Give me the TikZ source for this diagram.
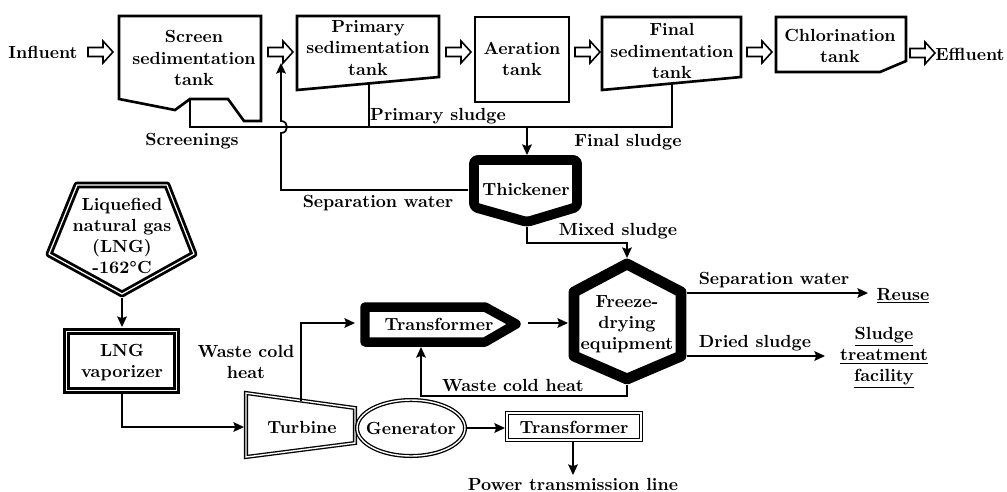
\documentclass[tikz,border=0pt]{standalone}
\usetikzlibrary{arrows.meta}
\begin{document}
\begin{tikzpicture}[x=0.02cm,y=-0.02cm,
  every node/.style={font=\bfseries\fontsize{10}{12}\selectfont, inner sep=0pt, align=center},
  tank/.style={line width=1.5pt, line join=miter},
  flow/.style={line width=1pt},
  arr/.style={flow,-{Stealth[length=6pt,width=5.5pt,inset=1pt]}},
  heavy/.style={line width=5.6pt, line join=round},
  dbl/.style={line width=0.75pt, double=white, double distance=0.8pt},
  dblheavy/.style={line width=1.6pt, double=white, double distance=0.7pt},
  hollow/.style={line width=0.9pt, line join=miter}]
\useasboundingbox (0,0) rectangle (1007,491);

% ---------- top row tanks ----------
\draw[tank] (119,16) -- (261,16) -- (261,121) -- (244,121) -- (228,99) -- (190,99) -- (175,110) -- (119,99) -- cycle;
\coordinate (scrbot) at (190,99);
\node (screen) at (194,58) {Screen\\sedimentation\\tank};

\draw[tank] (297,16) -- (439,16) -- (439,77) -- (297,90) -- cycle;
\coordinate (pribot) at (369,83.5);
\node (primary) at (368,48) {Primary\\sedimentation\\tank};

\draw[tank] (475,17) rectangle (569,102);
\node (aeration) at (522,59) {Aeration\\tank};

\draw[tank] (602,17) -- (741,17) -- (741,77) -- (602,90) -- cycle;
\coordinate (finbot) at (672,83.5);
\node (final) at (672,51) {Final\\sedimentation\\tank};

\draw[tank] (776,17) -- (906,17) -- (906,61) -- (880,72) -- (776,72) -- cycle;
\node (chlor) at (840,46) {Chlorination\\tank};

\node (influent) at (43,52) {Influent};
\node (effluent) at (970,54) {Effluent};

% open (hollow) block arrows between the stages
\foreach \name/\xa/\ya in {oa1/88/52, oa2/268/52, oa3/446/52, oa4/575/52, oa5/747/52, oa6/910/53} {
  \coordinate (\name) at (\xa,\ya);
  \draw[hollow] (\name) ++(0,-4.5) -- ++(15,0) -- ++(0,-6.5) -- ++(10,11) -- ++(-10,11) -- ++(0,-6.5) -- ++(-15,0) -- cycle;
}

% ---------- sludge collection ----------
\coordinate (junc) at (527,127);
\draw[flow] (scrbot) -- (190,127) -- (672,127) -- (finbot);
\draw[flow] (pribot) -- (369,127);
\node (screenings) at (192,141) {Screenings};
\node (primsl) at (438,116) {Primary sludge};
\node (finsl) at (628,142) {Final sludge};

% ---------- thickener ----------
\draw[heavy, rounded corners=2pt] (474,160) -- (577,160) -- (577,207) -- (527,222) -- (474,207) -- cycle;
\node (thick) at (526,189) {Thickener};
\coordinate (thtop) at (527,155);
\coordinate (thleft) at (468,190);
\coordinate (thbot) at (527,227);
\draw[arr] (junc) -- (thtop);

% separation water back to primary inlet, hopping over the sludge line
\coordinate (sepend) at (281,63);
\draw[arr] (thleft) -- (281,190) -- (281,133) .. controls (289,133) and (289,121) .. (281,121) -- (sepend);
\node (sepw1) at (378,203) {Separation water};

% ---------- freeze drying ----------
\draw[line width=6.2pt, line join=round] (627,264) -- (681,292) -- (681,356) -- (627,379) -- (574,356) -- (574,292) -- cycle;
\node (freeze) at (627,324) {Freeze-\\drying\\equipment};
\coordinate (fdtop) at (627,258);
\coordinate (fdleft) at (568,323);
\coordinate (fdr1) at (687,293);
\coordinate (fdr2) at (687,356);
\coordinate (fdbot) at (627,385);

\draw[arr] (thbot) -- (527,243) -- (627,243) -- (fdtop);
\node (mixed) at (618,231) {Mixed sludge};

\node (reuse) at (903,296) {\underline{Reuse}};
\node (sludgefac) at (884,358) {\underline{Sludge}\\\underline{treatment}\\\underline{facility}};
\coordinate (reuseend) at (868,293);
\coordinate (driedend) at (825,356);
\draw[arr] (fdr1) -- (reuseend);
\draw[arr] (fdr2) -- (driedend);
\node (sepw2) at (774,280) {Separation water};
\node (dried) at (755,343) {Dried sludge};

% ---------- upper transformer ----------
\draw[heavy, line width=5.4pt] (365,307) -- (485,307) -- (516,324) -- (485,342) -- (365,342) -- cycle;
\node (trans1) at (439,324) {Transformer};
\coordinate (tr1tip) at (528,323);
\coordinate (tr1left) at (355,323);
\coordinate (tr1bot) at (421,347);
\draw[arr] (tr1tip) -- (fdleft);
\draw[arr] (fdbot) -- (627,396) -- (421,396) -- (tr1bot);
\node (wch2) at (513,385) {Waste cold heat};

% ---------- LNG ----------
\draw[dblheavy, line join=round] (77,185) -- (167,185) -- (194,254) -- (122,294) -- (49,254) -- cycle;
\node (lng) at (122,236) {Liquefied\\natural gas\\(LNG)\\-162\textdegree C};
\coordinate (lngbot) at (122,298);

\draw[dblheavy] (66.5,331.5) rectangle (176.5,390.5);
\node (vap) at (122,363) {LNG\\vaporizer};
\coordinate (vaptop) at (122,327);
\coordinate (vapbot) at (122,394);
\draw[arr] (lngbot) -- (vaptop);

% ---------- turbine / generator ----------
\draw[dbl] (246,393) -- (355,408) -- (355,443) -- (246,457) -- cycle;
\node (turbine) at (302,427) {Turbine};
\coordinate (turbleft) at (244,427);
\coordinate (turbtop) at (301,400.6);
\draw[arr] (vapbot) -- (122,427) -- (turbleft);
\draw[arr] (turbtop) -- (301,323) -- (tr1left);
\node (wch1) at (246,362) {Waste cold\\heat};

\draw[dbl] (411,428) ellipse [x radius=54, y radius=28];
\node (gen) at (411,428) {Generator};
\coordinate (genright) at (466,428);

\draw[dbl] (507,413) rectangle (641,440);
\node (trans2) at (574,427) {Transformer};
\coordinate (tr2left) at (505,428);
\coordinate (tr2bot) at (573,441);
\coordinate (powend) at (573,475);
\draw[arr] (genright) -- (tr2left);
\draw[arr] (tr2bot) -- (powend);
\node (power) at (573,484) {Power transmission line};
\end{tikzpicture}
\end{document}
